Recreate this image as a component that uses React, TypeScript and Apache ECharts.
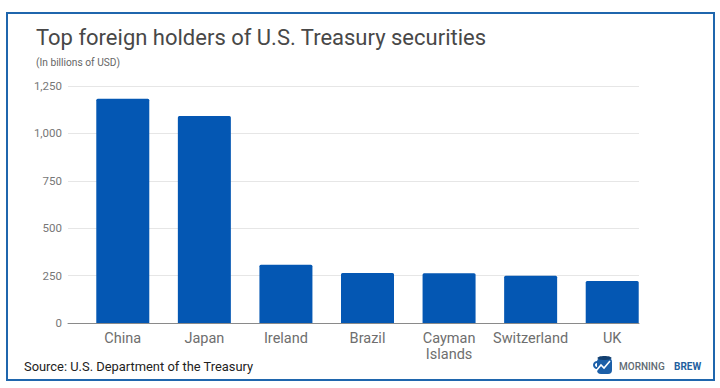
import React, { useEffect, useRef } from "react";
import * as echarts from "echarts";

const categories = ["China", "Japan", "Ireland", "Brazil", "Cayman\nIslands", "Switzerland", "UK"];
const holdings = [1183, 1092, 307, 264, 263, 249, 222];
const yTicks = { min: 0, max: 1250, interval: 250 };
const titleText = "Top foreign holders of U.S. Treasury securities";
const subtitleText = "(In billions of USD)";
const sourceText = "Source: U.S. Department of the Treasury";

const FONT = "Roboto";

export default function App() {
  const ref = useRef<HTMLDivElement>(null);
  useEffect(() => {
    if (!ref.current) return;
    const chart = echarts.init(ref.current, undefined, { renderer: "svg" });
    chart.setOption({
      animation: false,
      backgroundColor: "#ffffff",
      textStyle: { fontFamily: FONT },
      grid: [
        { left: 68, right: 81, top: 86, height: 237 },
        { left: 82, right: 67, top: 86, height: 237 },
      ],
      xAxis: [
        {
          type: "category",
          gridIndex: 0,
          data: categories,
          axisLine: { lineStyle: { color: "#8a8a8a", width: 1 } },
          axisTick: { show: false },
          axisLabel: { show: false },
        },
        {
          type: "category",
          gridIndex: 1,
          data: categories,
          axisLine: { show: false },
          axisTick: { show: false },
          axisLabel: {
            color: "#6e6e6e",
            fontSize: 14.5,
            fontFamily: FONT,
            margin: 7,
            lineHeight: 16,
            interval: 0,
          },
        },
      ],
      yAxis: [
        {
          type: "value",
          gridIndex: 0,
          ...yTicks,
          axisLine: { show: false },
          axisTick: { show: false },
          axisLabel: {
            color: "#777777",
            fontSize: 11.5,
            fontFamily: FONT,
            margin: 6,
            formatter: (v: number) => v.toLocaleString("en-US"),
          },
          splitLine: { lineStyle: { color: "#e6e6e6", width: 1 } },
        },
        {
          type: "value",
          gridIndex: 1,
          ...yTicks,
          show: false,
          splitLine: { show: false },
        },
      ],
      series: [
        {
          type: "bar",
          xAxisIndex: 1,
          yAxisIndex: 1,
          data: holdings,
          barWidth: 53,
          itemStyle: { color: "#0457b3", borderRadius: [1.5, 1.5, 0, 0] },
          z: 3,
        },
      ],
      graphic: [
        {
          type: "rect",
          shape: { x: 7, y: 13, width: 707, height: 367 },
          style: { fill: "none", stroke: "#1f66ad", lineWidth: 2 },
          silent: true,
        },
        {
          type: "text",
          x: 36,
          y: 26,
          style: { text: titleText, fill: "#484848", fontSize: 22, fontFamily: FONT },
        },
        {
          type: "text",
          x: 36,
          y: 57,
          style: { text: subtitleText, fill: "#666666", fontSize: 10.2, fontFamily: FONT },
        },
        {
          type: "text",
          x: 24,
          y: 360,
          style: { text: sourceText, fill: "#222222", fontSize: 12.9, fontFamily: FONT },
        },
        {
          type: "text",
          x: 619,
          y: 361,
          style: { text: "MORNING", fill: "#5f6b73", fontSize: 10, fontWeight: 500, fontFamily: FONT, letterSpacing: 1.4 },
        },
        {
          type: "text",
          x: 674,
          y: 361,
          style: { text: "BREW", fill: "#1f5f9e", fontSize: 10, fontWeight: 700, fontFamily: FONT, letterSpacing: 1.4 },
        },
        {
          type: "ring",
          shape: { cx: 597, cy: 365, r: 4, r0: 2 },
          style: { fill: "#1c5fa8" },
        },
        {
          type: "rect",
          shape: { x: 597, y: 358, width: 15, height: 16, r: 4 },
          style: { fill: "#1c5fa8" },
        },
        {
          type: "ellipse",
          shape: { cx: 604.5, cy: 358, rx: 7, ry: 2 },
          style: { fill: "#123f70" },
        },
        {
          type: "polyline",
          shape: { points: [[596, 371], [601, 365], [604, 368], [610, 361]] },
          style: { stroke: "#ffffff", lineWidth: 1.6, fill: "none" },
        },
      ],
    });
    return () => chart.dispose();
  }, []);
  return <div ref={ref} style={{ position: "fixed", left: 0, top: 0, width: 720, height: 388 }} />;
}
